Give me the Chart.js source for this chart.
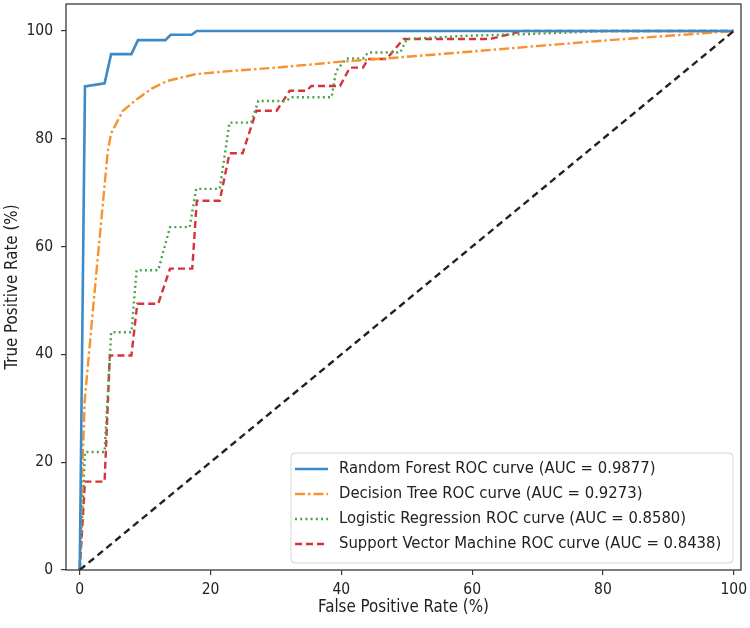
<!DOCTYPE html>
<html><head><meta charset="utf-8">
<script src="https://cdn.jsdelivr.net/npm/chart.js@4.4.0/dist/chart.umd.min.js"></script>
<style>html,body{margin:0;padding:0;background:#fff}</style>
</head><body>
<canvas id="c" width="750" height="628" style="width:750px;height:628px;display:block"></canvas>
<script>
// ---- data (percent) ----
const seriesLabels = [
  "Random Forest ROC curve (AUC = 0.9877)",
  "Decision Tree ROC curve (AUC = 0.9273)",
  "Logistic Regression ROC curve (AUC = 0.8580)",
  "Support Vector Machine ROC curve (AUC = 0.8438)"
];
const rfFpr = [0, 0.8, 3.8, 4.8, 7.9, 8.9, 13.1, 13.9, 17.1, 17.9, 100];
const rfTpr = [0, 89.7, 90.3, 95.7, 95.7, 98.3, 98.3, 99.3, 99.3, 100, 100];

const dtFpr = [0, 0.3, 0.5, 0.76, 2.5, 4.3, 4.8, 6.6, 8.7, 11, 13.3, 17.8, 22.4, 30, 40, 50, 60, 70, 80, 90, 100];
const dtTpr = [0, 15, 22, 31.5, 54.6, 77.8, 81, 85.2, 87.3, 89.3, 90.7, 92, 92.5, 93.2, 94.3, 95.2, 96.2, 97.2, 98.2, 99.1, 100];

const lrFpr = [0, 0.8, 3.8, 4.8, 7.9, 8.7, 12.0, 13.8, 16.8, 17.8, 21.4, 22.9, 26.2, 27.3, 31.6, 32.3, 38.5, 39.2, 40.8, 43.3, 44.1, 49.0, 50.0, 59.1, 67.8, 81.0, 100];
const lrTpr = [0, 21.9, 21.9, 44.1, 44.1, 55.6, 55.6, 63.6, 63.6, 70.7, 70.7, 83.0, 83.0, 87.0, 87.0, 87.7, 87.7, 92.6, 94.9, 94.9, 96.0, 96.0, 98.5, 99.1, 99.4, 100, 100];

const svmFpr = [0, 0.8, 3.8, 4.6, 7.9, 8.8, 12.0, 13.8, 17.2, 17.9, 21.4, 22.9, 24.9, 27.0, 30.1, 32.1, 34.7, 35.4, 39.8, 41.3, 43.3, 44.1, 46.9, 49.5, 62.7, 67.8, 100];
const svmTpr = [0, 16.4, 16.4, 39.8, 39.8, 49.4, 49.4, 55.9, 55.9, 68.5, 68.5, 77.3, 77.3, 85.2, 85.2, 88.9, 88.9, 89.8, 89.8, 93.2, 93.2, 94.8, 94.8, 98.5, 98.5, 100, 100];

const chanceFpr = [0, 100];
const chanceTpr = [0, 100];

const xTicks = [0, 20, 40, 60, 80, 100];
const yTicks = [0, 20, 40, 60, 80, 100];

// ---- styling ----
const FONT = "'DejaVu Sans Condensed', 'DejaVu Sans', sans-serif";
const pts = (xs, ys) => xs.map((x, i) => ({x: x, y: ys[i]}));

const styles = [
  {color: '#3d8ac9', dash: [], width: 2.6},
  {color: '#f7922e', dash: [10, 3, 2.5, 3], width: 2.4},
  {color: '#47a447', dash: [2, 3.2], width: 2.4},
  {color: '#d8323a', dash: [7, 4], width: 2.4}
];

const curveData = [pts(rfFpr, rfTpr), pts(dtFpr, dtTpr), pts(lrFpr, lrTpr), pts(svmFpr, svmTpr)];

const datasets = curveData.map((d, i) => ({
  label: seriesLabels[i],
  data: d,
  borderColor: styles[i].color,
  borderDash: styles[i].dash,
  borderWidth: styles[i].width,
  pointRadius: 0,
  tension: 0,
  fill: false,
  order: i + 1
}));
datasets.push({
  label: 'chance',
  data: pts(chanceFpr, chanceTpr),
  borderColor: '#222',
  borderDash: [7, 4.5],
  borderWidth: 2.4,
  pointRadius: 0,
  fill: false,
  order: 0
});

const frameAndLegend = {
  id: 'frameAndLegend',
  afterDatasetsDraw(chart) {
    const ctx = chart.ctx, a = chart.chartArea;
    ctx.save();
    // legend
    const lx = a.left + 225, ly = a.top + 449, lw = 442, lh = 110;
    ctx.beginPath();
    if (ctx.roundRect) ctx.roundRect(lx, ly, lw, lh, 4); else ctx.rect(lx, ly, lw, lh);
    ctx.fillStyle = 'rgba(255,255,255,0.85)';
    ctx.fill();
    ctx.lineWidth = 1;
    ctx.strokeStyle = '#d4d4d4';
    ctx.stroke();
    ctx.font = '16.5px ' + FONT;
    ctx.textBaseline = 'middle';
    ctx.fillStyle = '#222';
    for (let i = 0; i < 4; i++) {
      const yy = ly + 16 + i * 25;
      ctx.beginPath();
      ctx.setLineDash(styles[i].dash);
      ctx.lineWidth = styles[i].width;
      ctx.strokeStyle = styles[i].color;
      ctx.moveTo(lx + 4, yy);
      ctx.lineTo(lx + 37, yy);
      ctx.stroke();
      ctx.setLineDash([]);
      ctx.fillText(seriesLabels[i], lx + 48, yy);
    }
    // frame
    ctx.lineWidth = 1.3;
    ctx.strokeStyle = '#3a3a3a';
    ctx.strokeRect(a.left, a.top, a.right - a.left, a.bottom - a.top);
    ctx.restore();
  }
};

new Chart(document.getElementById('c'), {
  type: 'line',
  data: {datasets: datasets},
  plugins: [frameAndLegend],
  options: {
    responsive: false,
    animation: false,
    devicePixelRatio: 1,
    layout: {padding: {left: 0, right: 9, top: 4, bottom: 0}},
    plugins: {legend: {display: false}, tooltip: {enabled: false}},
    scales: {
      x: {
        type: 'linear', min: -2.1, max: 101.1,
        afterBuildTicks: s => { s.ticks = xTicks.map(v => ({value: v})); },
        afterFit: s => { s.height = 58; s.paddingLeft = 0; s.paddingRight = 0; },
        grid: {drawOnChartArea: false, drawTicks: true, tickLength: 5, color: '#3a3a3a', lineWidth: 1.2},
        border: {display: false},
        ticks: {color: '#222', font: {family: FONT, size: 15.5}, padding: 6, maxRotation: 0},
        title: {display: true, text: 'False Positive Rate (%)', color: '#222', font: {family: FONT, size: 16.8}, padding: {top: 0, bottom: 10}}
      },
      y: {
        type: 'linear', min: 0, max: 105,
        afterBuildTicks: s => { s.ticks = yTicks.map(v => ({value: v})); },
        afterFit: s => { s.width = 66; s.paddingTop = 0; s.paddingBottom = 0; },
        grid: {drawOnChartArea: false, drawTicks: true, tickLength: 5, color: '#3a3a3a', lineWidth: 1.2},
        border: {display: false},
        ticks: {color: '#222', font: {family: FONT, size: 15.5}, padding: 8},
        title: {display: true, text: 'True Positive Rate (%)', color: '#222', font: {family: FONT, size: 16.8}, padding: {top: 3, bottom: 0}}
      }
    }
  }
});
</script>
</body></html>
